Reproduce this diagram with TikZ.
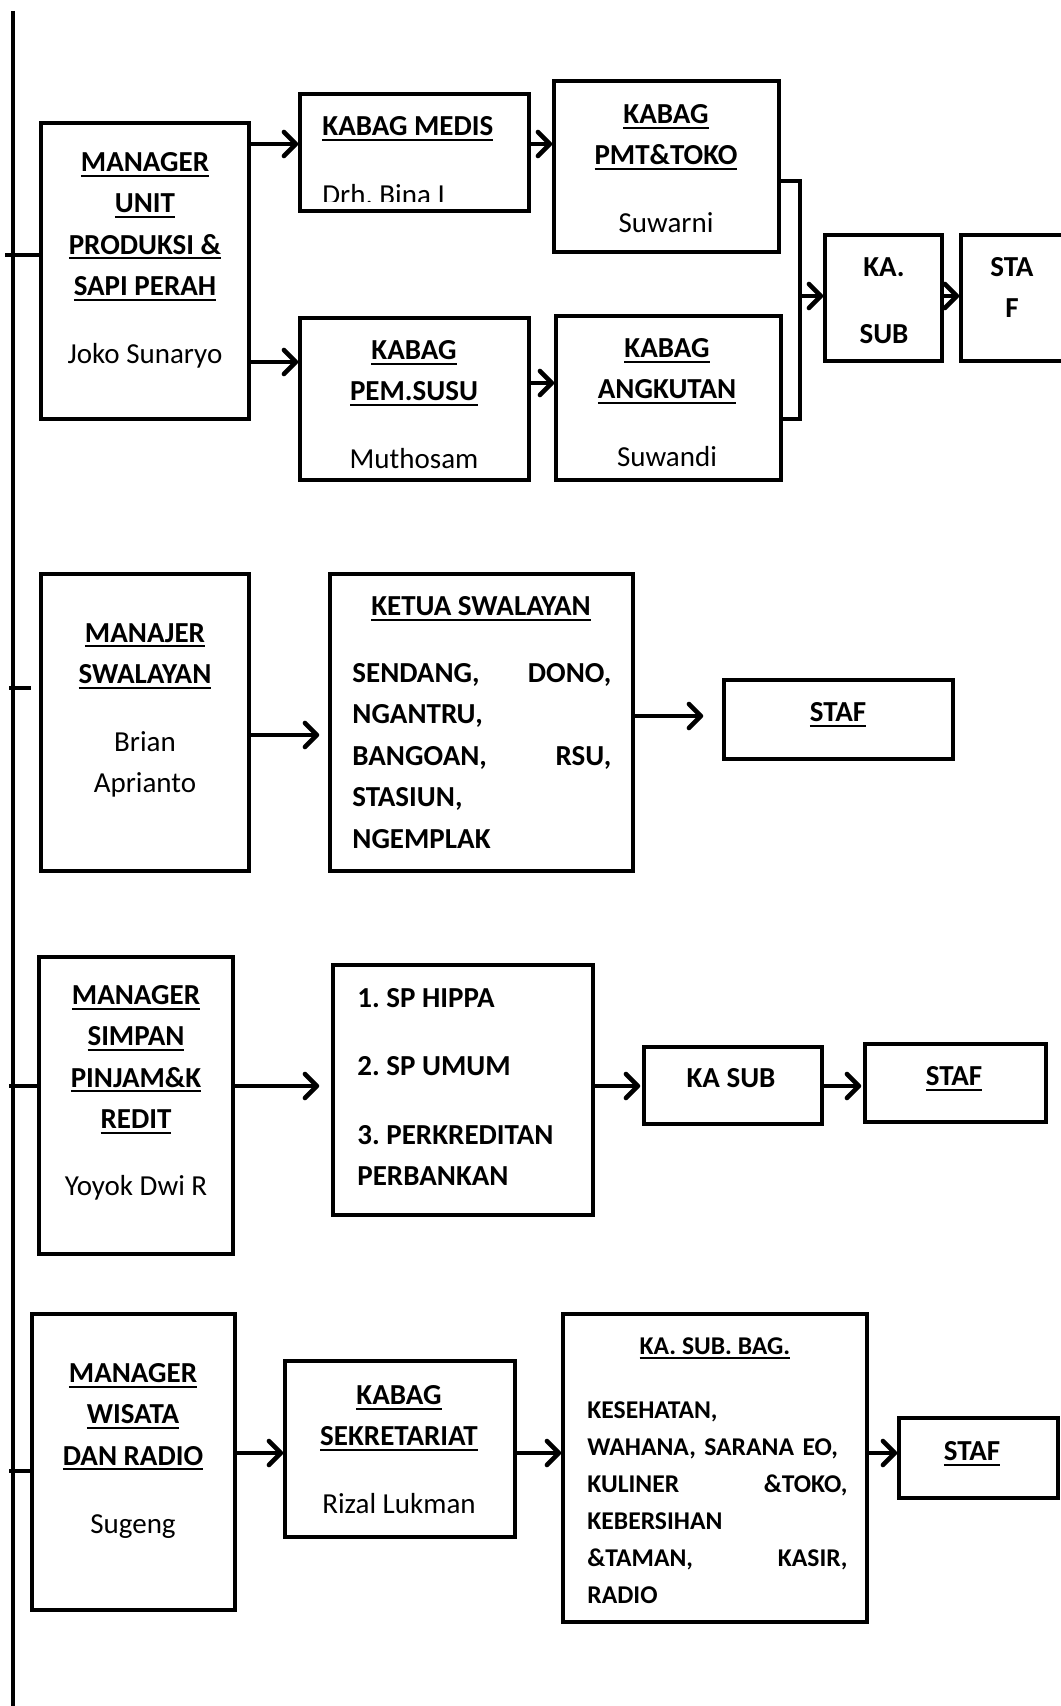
\documentclass[tikz,border=0pt]{standalone}
\usepackage{fontspec}
\setmainfont{Carlito}
\usetikzlibrary{positioning,fit,arrows.meta}
\tikzstyle{block} = [draw, line width=1.75pt, rectangle, inner sep=0pt]
\tikzstyle{arrow} = [line width=1.9pt, -{Straight Barb[length=6pt,width=12pt,line width=2.3pt,round]}]
\tikzstyle{spine} = [line width=2pt]
\tikzstyle{txt} = [inner sep=0pt, align=center, anchor=north,
    font=\fontsize{14.5}{20.7}\selectfont]
\tikzstyle{boldtxt} = [txt, font=\fontsize{14.5}{20.7}\selectfont\bfseries]
\tikzstyle{list} = [inner sep=0pt, align=left, anchor=north west,
    font=\fontsize{14.5}{20.7}\selectfont\bfseries]
\newcommand{\hdr}[1]{{\setbox0=\hbox{\bfseries #1}\rlap{\rule[-2.6pt]{\wd0}{1pt}}\box0}}
\frenchspacing

\begin{document}
\begin{tikzpicture}[x=0.5pt, y=-0.5pt]
    \useasboundingbox (0,0) rectangle (1060,1706);
    % garis induk
    \coordinate (top) at (13,11);
    \coordinate (bot) at (13,1706);
    \draw [spine] (top) -- (bot);

    % unit produksi & sapi perah
    \node [block, fit={(41,123) (249,419)}] (mup) {};
    \node [txt] (mupt) at (145,152) {\hdr{MANAGER}\\ \hdr{UNIT}\\ \hdr{PRODUKSI \&}\\ \hdr{SAPI PERAH}\\[13pt] Joko Sunaryo};
    \node [block, fit={(300,94) (529,211)}] (medis) {};
    \begin{scope}
        \clip (300,94) rectangle (529,202);
        \node [txt, anchor=north west, align=left] (medist) at (322,116) {\hdr{KABAG MEDIS}\\[13.6pt] Drh. Bina I};
    \end{scope}
    \node [block, fit={(554,81) (779,252)}] (pmt) {};
    \node [txt] (pmtt) at (666,104) {\hdr{KABAG}\\ \hdr{PMT\&TOKO}\\[13pt] Suwarni};
    \node [block, fit={(300,318) (529,480)}] (susu) {};
    \node [txt] (susut) at (414,340) {\hdr{KABAG}\\ \hdr{PEM.SUSU}\\[13pt] Muthosam};
    \node [block, fit={(556,316) (781,480)}] (angk) {};
    \node [txt] (angkt) at (667,338) {\hdr{KABAG}\\ \hdr{ANGKUTAN}\\[13pt] Suwandi};
    \node [block, fit={(825,235) (942,361)}] (ksub) {};
    \node [boldtxt] (ksubt) at (884,257) {KA.\\[13pt] SUB};
    \node [block, fit={(961,235) (1075,361)}] (staf) {};
    \node [boldtxt] (staft) at (1012,257) {STA\\ F};
    \coordinate (join) at (800,296);
    \coordinate (t1) at (5,255);
    \draw [spine] (t1) -- (mup.west |- t1);
    \draw [arrow] (mup.east |- 0,144) -- (medis.west |- 0,144);
    \draw [arrow] (mup.east |- 0,362) -- (susu.west |- 0,362);
    \draw [arrow] (medis.east |- 0,144) -- (pmt.west |- 0,144);
    \draw [arrow] (susu.east |- 0,383) -- (angk.west |- 0,383);
    \draw [line width=1.75pt] (pmt.east |- 0,181) -| (join) |- (angk.east |- 0,419);
    \draw [arrow] (join) -- (ksub.west |- join);
    \draw [arrow] (ksub.east |- join) -- (staf.west |- join);

    % swalayan
    \node [block, fit={(41,574) (249,871)}] (mswl) {};
    \node [txt] (mswlt) at (145,623) {\hdr{MANAJER}\\ \hdr{SWALAYAN}\\[13pt] Brian\\ Aprianto};
    \node [block, fit={(330,574) (633,871)}] (ketua) {};
    \node [txt] (ketuat) at (481,596) {\hdr{KETUA SWALAYAN}};
    \node [list, text width=129.5pt] (ketual) at (352,663) {SENDANG,\hfill DONO,\\ NGANTRU,\\ BANGOAN,\hfill RSU,\\ STASIUN,\\ NGEMPLAK};
    \node [block, fit={(724,680) (953,759)}] (staf2) {};
    \node [txt] (staf2t) at (838,702) {\hdr{STAF}};
    \coordinate (t2) at (9,688);
    \draw [spine, shorten >=4pt] (t2) -- (mswl.west |- t2);
    \draw [arrow, shorten >=4.5pt] (mswl.east |- 0,735) -- (ketua.west |- 0,735);
    \draw [arrow, shorten >=9.5pt] (ketua.east |- 0,716) -- (staf2.west |- 0,716);

    % simpan pinjam
    \node [block, fit={(39,957) (233,1254)}] (msp) {};
    \node [txt] (mspt) at (136,985) {\hdr{MANAGER}\\ \hdr{SIMPAN}\\ \hdr{PINJAM\&K}\\ \hdr{REDIT}\\[12.5pt] Yoyok Dwi R};
    \node [block, fit={(333,965) (593,1215)}] (unit) {};
    \node [list] (unitt) at (357,988) {1. SP HIPPA\\[13.5pt] 2. SP UMUM\\[13.5pt] 3. PERKREDITAN\\ PERBANKAN};
    \node [block, fit={(644,1047) (822,1124)}] (ksub3) {};
    \node [boldtxt] (ksub3t) at (731,1068) {KA SUB};
    \node [block, fit={(865,1044) (1046,1122)}] (staf3) {};
    \node [txt] (staf3t) at (954,1066) {\hdr{STAF}};
    \coordinate (t3) at (9,1086);
    \draw [spine] (t3) -- (msp.west |- t3);
    \draw [arrow, shorten >=6pt] (msp.east |- t3) -- (unit.west |- t3);
    \draw [arrow, shorten >=1pt] (unit.east |- t3) -- (ksub3.west |- t3);
    \draw [arrow, shorten >=1pt] (ksub3.east |- t3) -- (staf3.west |- t3);

    % wisata dan radio
    \node [block, fit={(32,1314) (235,1610)}] (mwis) {};
    \node [txt] (mwist) at (133,1363) {\hdr{MANAGER}\\ \hdr{WISATA}\\ \hdr{DAN RADIO}\\[13.5pt] Sugeng};
    \node [block, fit={(285,1361) (515,1537)}] (sekr) {};
    \node [txt] (sekrt) at (399,1385) {\hdr{KABAG}\\ \hdr{SEKRETARIAT}\\[13pt] Rizal Lukman};
    \node [block, fit={(563,1314) (867,1622)}] (ksb) {};
    \node [txt, font=\fontsize{12.8}{18.5}\selectfont] (ksbt) at (715,1337) {\hdr{KA. SUB. BAG.}};
    \node [list, text width=130pt, font=\fontsize{12.8}{18.5}\selectfont\bfseries] (ksbl) at (587,1401) {KESEHATAN,\\ WAHANA, SARANA EO,\\ KULINER\hfill\&TOKO,\\ KEBERSIHAN\\ \&TAMAN,\hfill KASIR,\\ RADIO};
    \node [block, fit={(899,1418) (1058,1498)}] (staf4) {};
    \node [txt] (staf4t) at (972,1441) {\hdr{STAF}};
    \coordinate (t4) at (9,1471);
    \draw [spine] (t4) -- (mwis.west |- t4);
    \draw [arrow] (mwis.east |- 0,1453) -- (sekr.west |- 0,1453);
    \draw [arrow] (sekr.east |- 0,1453) -- (ksb.west |- 0,1453);
    \draw [arrow] (ksb.east |- 0,1453) -- (staf4.west |- 0,1453);
\end{tikzpicture}
\end{document}
